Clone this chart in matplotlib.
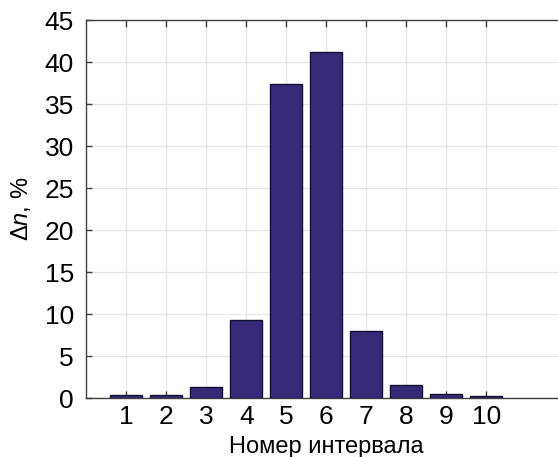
import matplotlib
matplotlib.use("Agg")
import matplotlib.pyplot as plt

intervals = [1, 2, 3, 4, 5, 6, 7, 8, 9, 10]
values = [0.43, 0.36, 1.35, 9.32, 37.4, 41.2, 8.0, 1.55, 0.5, 0.31]
yticks = [0, 5, 10, 15, 20, 25, 30, 35, 40, 45]

plt.rcParams['font.family'] = ['Liberation Sans', 'DejaVu Sans']
plt.rcParams['mathtext.fontset'] = 'custom'
plt.rcParams['mathtext.rm'] = 'Liberation Sans'
plt.rcParams['mathtext.it'] = 'Liberation Sans:italic'

fig = plt.figure(figsize=(5.58, 4.57), dpi=100)
ax = fig.add_axes([0.1547, 0.1284, 0.860, 0.8272])

ax.bar(intervals, values, width=0.8, color='#362a78', edgecolor='#111133',
       linewidth=1.0, zorder=3)

ax.set_xlim(0, 12)
ax.set_ylim(0, 45)
ax.set_xticks(intervals)
ax.set_yticks(yticks)
ax.grid(True, color='#e6e6e6', linewidth=0.9, zorder=0)
ax.set_axisbelow(True)

ax.tick_params(axis='x', direction='in', top=True, bottom=True, length=5,
               width=1, color='#404040', labelsize=19, pad=5)
ax.tick_params(axis='y', direction='in', left=True, right=False, length=4,
               width=1, color='#404040', labelsize=19, pad=9)

for s in ['top', 'bottom', 'left']:
    ax.spines[s].set_color('#404040')
    ax.spines[s].set_linewidth(1.0)
ax.spines['right'].set_visible(False)

ax.set_xlabel('Номер интервала', fontsize=17, labelpad=5)
ax.set_ylabel('Δ$\\mathit{n}$, %', fontsize=17, labelpad=8)

fig.savefig('out.png', dpi=100)
